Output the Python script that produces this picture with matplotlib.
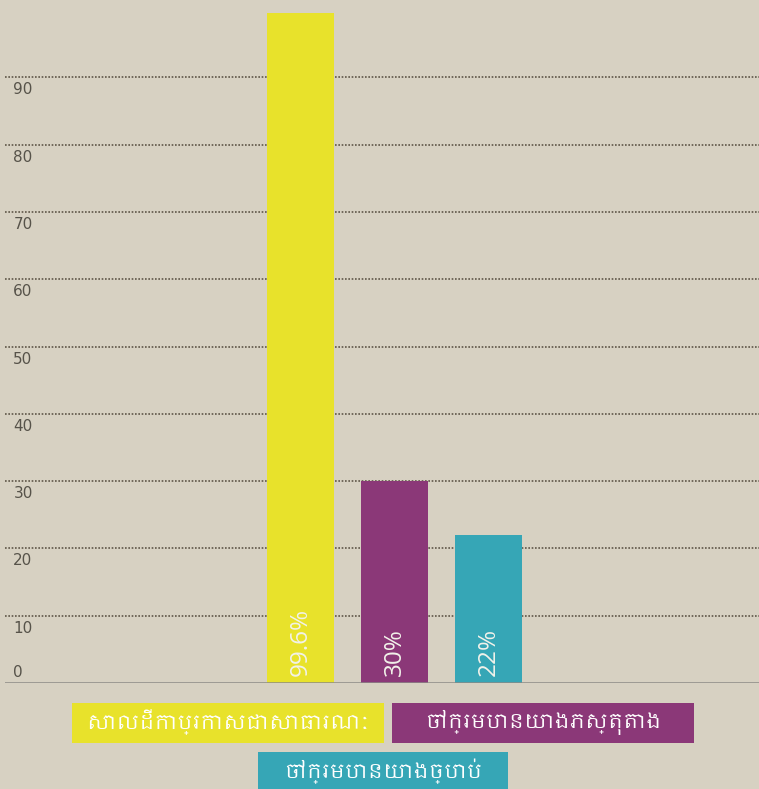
import matplotlib
matplotlib.use("Agg")
import matplotlib.pyplot as plt
import matplotlib.transforms as mtransforms
from matplotlib import font_manager as fm
from matplotlib.patches import Rectangle

# data
categories = ["សាលដីកាប្រកាសជាសាធារណៈ", "ចៅក្រមបានយោងភស្តុតាង", "ចៅក្រមបានយោងច្បាប់"]
values = [99.6, 30, 22]
value_labels = ["99.6%", "30%", "22%"]
colors = ["#E8E22B", "#8B3878", "#36A6B6"]
yticks = [0, 10, 20, 30, 40, 50, 60, 70, 80, 90]

bg = "#D7D1C2"
W, H = 759, 789

# khmer font if one happens to be around
khmer_family = None
for path in fm.findSystemFonts():
    if "khmer" in path.lower():
        try:
            fm.fontManager.addfont(path)
            khmer_family = fm.FontProperties(fname=path).get_name()
            break
        except Exception:
            pass
label_family = [khmer_family, "DejaVu Sans"] if khmer_family else ["DejaVu Sans"]

fig = plt.figure(figsize=(W / 100, H / 100), dpi=100, facecolor=bg)
ax = fig.add_axes([5 / W, 106 / H, 754 / W, 683 / H])
ax.set_facecolor(bg)

x = list(range(len(values)))
ax.bar(x, values, width=0.71, color=colors, zorder=3)

for xi, lab in zip(x, value_labels):
    ax.text(xi, 1.0, lab, rotation=90, ha="center", va="bottom",
            color="#F2F2EA", fontsize=17.5,
            family=["Open Sans", "DejaVu Sans"], zorder=4)

ax.set_xlim(-3.15, 4.88)
ax.set_ylim(0, 101.5)
ax.set_xticks([])
ax.set_yticks(yticks)
ax.set_yticklabels([str(t) for t in yticks])
ax.tick_params(axis="y", length=0, pad=-6, labelcolor="#57534A", labelsize=11)
down = mtransforms.ScaledTranslation(0, -5 / 100, fig.dpi_scale_trans)
up = mtransforms.ScaledTranslation(0, 3 / 100, fig.dpi_scale_trans)
for t, lab in zip(yticks, ax.get_yticklabels()):
    lab.set_horizontalalignment("left")
    if t == 0:
        lab.set_verticalalignment("bottom")
        lab.set_transform(lab.get_transform() + up)
    else:
        lab.set_verticalalignment("top")
        lab.set_transform(lab.get_transform() + down)

for t in yticks[1:]:
    ax.axhline(t, color="#5E5648", lw=1.2, ls=(0, (1, 1)), zorder=1)
ax.axhline(0, color="#8C8A86", lw=1.8, zorder=5)

for s in ax.spines.values():
    s.set_visible(False)

# legend boxes under the chart (pixel boxes: left, top, width, height)
legend_boxes = [(72, 703, 312, 40), (392, 703, 302, 40), (258, 752, 250, 40)]
for (bx, by, bw, bh), name, c in zip(legend_boxes, categories, colors):
    fig.patches.append(Rectangle((bx / W, 1 - (by + bh) / H), bw / W, bh / H,
                                 transform=fig.transFigure, fc=c, ec="none"))
    fig.text((bx + bw / 2) / W, 1 - (by + bh / 2 - 1) / H, name, ha="center", va="center",
             color="white", fontsize=14.5, family=label_family)

fig.savefig("out.png", dpi=100, facecolor=bg)
